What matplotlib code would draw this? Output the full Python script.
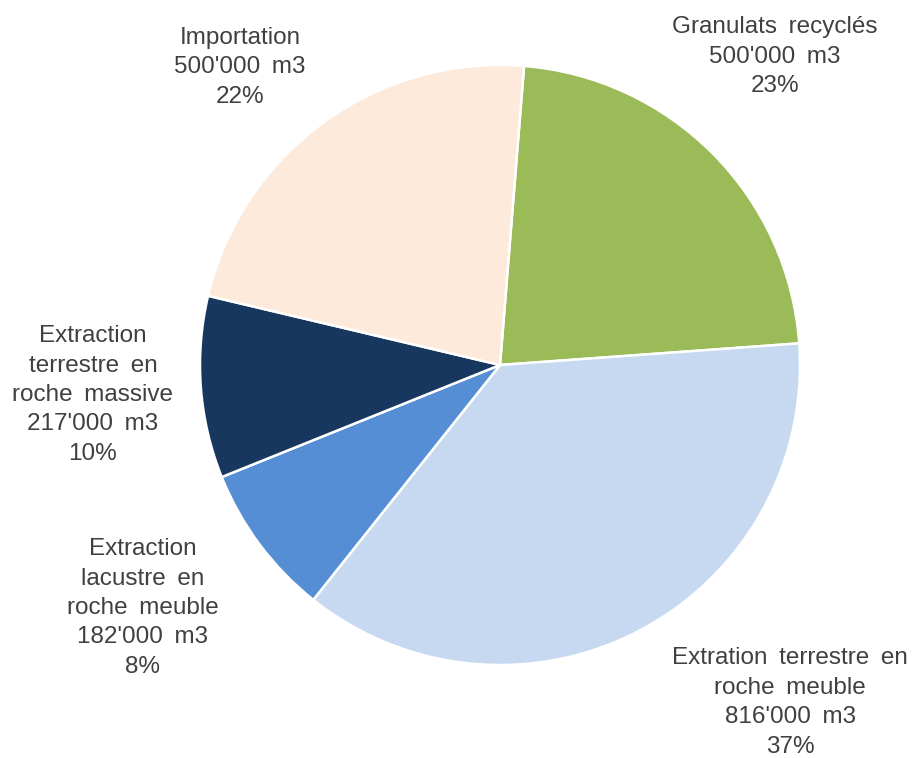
import matplotlib
matplotlib.use("Agg")
import matplotlib.pyplot as plt

categories = ["Granulats recyclés", "Extration terrestre en\nroche meuble",
              "Extraction\nlacustre en\nroche meuble",
              "Extraction\nterrestre en\nroche massive", "Importation"]
volumes = [500000, 816000, 182000, 217000, 500000]
volume_labels = ["500'000 m3", "816'000 m3", "182'000 m3", "217'000 m3", "500'000 m3"]
percent_labels = ["23%", "37%", "8%", "10%", "22%"]
colors = ["#9BBB59", "#C6D9F1", "#558ED5", "#17375E", "#FDEADA"]

# label block centres (in pie-radius units) -- layout only
label_pos = [(0.917, 1.027), (0.967, -1.125), (-1.19, -0.81), (-1.357, -0.10), (-0.867, 0.993)]

plt.rcParams['font.family'] = ['Liberation Sans', 'DejaVu Sans']
fig = plt.figure(figsize=(9.18, 7.58), dpi=100)
ax = fig.add_axes([0, 0, 1, 1])
ax.pie(volumes, colors=colors, startangle=85.4, counterclock=False,
       radius=1.0, wedgeprops=dict(edgecolor="white", linewidth=1.8))
ax.set_xlim(-500/300, 418/300)
ax.set_ylim(-(758-365)/300, 365/300)
ax.set_aspect('equal')
ax.axis('off')

for cat, vl, pl, (x, y) in zip(categories, volume_labels, percent_labels, label_pos):
    txt = f"{cat}\n{vl}\n{pl}".replace(" ", "\u2009 ")
    ax.text(x, y, txt, ha='center', va='center', fontsize=17.5,
            color="#404040", linespacing=1.44)

fig.savefig("out.png", dpi=100)
